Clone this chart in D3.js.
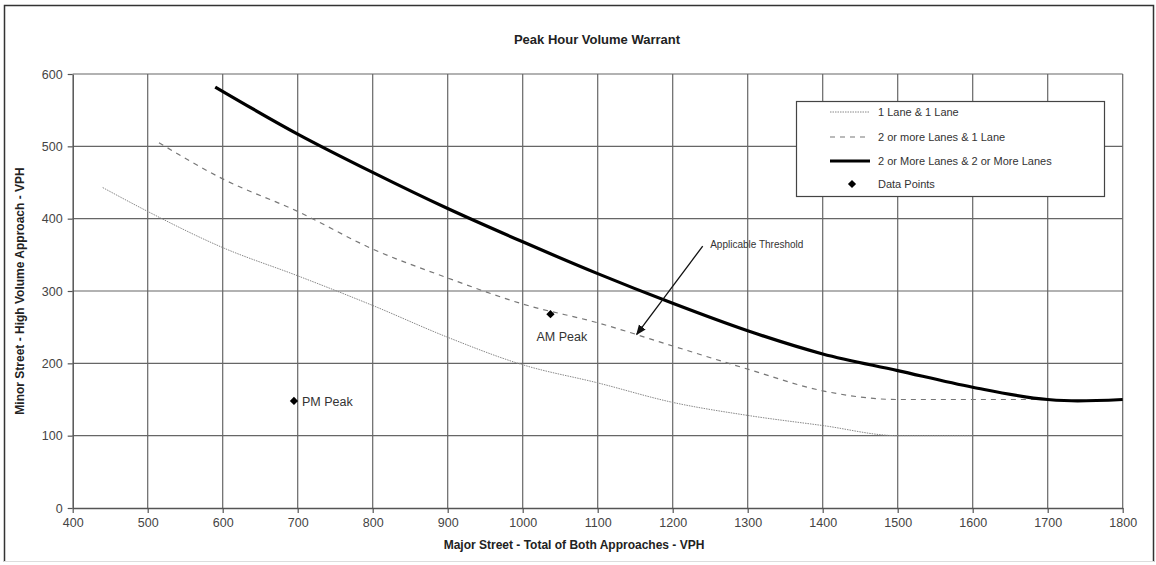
<!DOCTYPE html>
<html><head><meta charset="utf-8">
<script src="https://cdn.jsdelivr.net/npm/d3@7"></script>
<style>body{margin:0;background:#fff;font-family:"Liberation Sans",Arial,sans-serif;}</style>
</head><body>
<svg id="c" width="1156" height="565"></svg>
<script>
const xTicks = [400,500,600,700,800,900,1000,1100,1200,1300,1400,1500,1600,1700,1800];
const yTicks = [0,100,200,300,400,500,600];

const oneLaneX = [440,500,600,700,800,900,1000,1100,1200,1300,1400,1500,1600];
const oneLaneY = [443,410,360,321,280,236,198,173,146,128,114,100,100];

const twoOneX = [515,600,700,800,900,1000,1100,1200,1300,1400,1500,1600,1700];
const twoOneY = [505,455,410,358,318,282,256,224,192,162,150,150,150];

const twoTwoX = [590,700,800,900,1000,1100,1200,1300,1400,1500,1600,1700,1740,1800];
const twoTwoY = [582,517,464,414,368,324,283,245,213,190,167,150,148,150];

const pointsX = [695,1037];
const pointsY = [148,268];
const pointLabels = ["PM Peak","AM Peak"];

const legendLabels = ["1 Lane & 1 Lane","2 or more Lanes & 1 Lane","2 or More Lanes & 2 or More Lanes","Data Points"];

const svg = d3.select("#c");
const x = d3.scaleLinear().domain([400,1800]).range([72.7,1122.7]);
const y = d3.scaleLinear().domain([0,600]).range([508,74]);

// outer frame
svg.append("path").attr("d","M4.5,562 V5.5 H1153.5 V562").attr("fill","none").attr("stroke","#333").attr("stroke-width",1.5);
svg.append("line").attr("x1",4).attr("x2",1154).attr("y1",561.5).attr("y2",561.5).attr("stroke","#ddd");

svg.append("text").attr("x",597).attr("y",44).attr("text-anchor","middle")
  .attr("font-size",13).attr("font-weight","bold").attr("fill","#222").text("Peak Hour Volume Warrant");

// grid
const g = svg.append("g");
g.selectAll(".vg").data(xTicks.slice(1)).join("line")
  .attr("x1",d=>x(d)).attr("x2",d=>x(d)).attr("y1",y(600)).attr("y2",y(0))
  .attr("stroke","#666").attr("stroke-width",1.2);
g.selectAll(".hg").data(yTicks.slice(1)).join("line")
  .attr("x1",x(400)).attr("x2",x(1800)).attr("y1",d=>y(d)).attr("y2",d=>y(d))
  .attr("stroke","#666").attr("stroke-width",1.2);

// axes
const xAxis = svg.append("g").attr("transform",`translate(0,${y(0)})`)
  .call(d3.axisBottom(x).tickValues(xTicks).tickFormat(d3.format("d")).tickSize(5).tickPadding(5).tickSizeOuter(0));
const yAxis = svg.append("g").attr("transform",`translate(${x(400)},0)`)
  .call(d3.axisLeft(y).tickValues(yTicks).tickFormat(d3.format("d")).tickSize(5).tickPadding(5).tickSizeOuter(0));
[xAxis,yAxis].forEach(a=>{
  a.select(".domain").attr("stroke","#555").attr("stroke-width",1.5);
  a.selectAll(".tick line").attr("stroke","#555").attr("stroke-width",1.2);
  a.selectAll("text").attr("font-size",12.5).attr("fill","#444").attr("font-family","Liberation Sans, Arial, sans-serif");
});

svg.append("text").attr("x",574).attr("y",549).attr("text-anchor","middle")
  .attr("font-size",12).attr("font-weight","bold").attr("fill","#222")
  .text("Major Street - Total of Both Approaches - VPH");
svg.append("text").attr("transform","translate(24,291) rotate(-90)").attr("text-anchor","middle")
  .attr("font-size",12).attr("font-weight","bold").attr("fill","#222")
  .text("Minor Street - High Volume Approach - VPH");

const line = d3.line().x(d=>x(d[0])).y(d=>y(d[1])).curve(d3.curveMonotoneX);
const series = [
  {xs:oneLaneX, ys:oneLaneY, stroke:"#888", w:1, dash:"1.5,1"},
  {xs:twoOneX, ys:twoOneY, stroke:"#777", w:1.2, dash:"5,5"},
  {xs:twoTwoX, ys:twoTwoY, stroke:"#000", w:3.2, dash:null}
];
series.forEach(s=>{
  svg.append("path").datum(s.xs.map((v,i)=>[v,s.ys[i]])).attr("d",line)
    .attr("fill","none").attr("stroke",s.stroke).attr("stroke-width",s.w)
    .attr("stroke-dasharray",s.dash);
});

// points (square rotated 45deg)
const diamond = d3.symbol().type(d3.symbolSquare).size(34);
svg.selectAll(".pt").data(pointsX).join("path")
  .attr("transform",(d,i)=>`translate(${x(d)},${y(pointsY[i])}) rotate(45)`).attr("d",diamond).attr("fill","#000");
svg.append("text").attr("x",x(pointsX[0])+8).attr("y",y(pointsY[0])+5).attr("font-size",12.5).attr("fill","#333").text(pointLabels[0]);
svg.append("text").attr("x",x(pointsX[1])-14).attr("y",y(pointsY[1])+27).attr("font-size",12.5).attr("fill","#333").text(pointLabels[1]);

// annotation
svg.append("defs").append("marker").attr("id","ah").attr("viewBox","0 0 10 10").attr("refX",9).attr("refY",5)
  .attr("markerWidth",8).attr("markerHeight",8).attr("orient","auto")
  .append("path").attr("d","M0,1 L10,5 L0,9 Z").attr("fill","#111");
svg.append("line").attr("x1",x(1240)).attr("y1",y(362)).attr("x2",x(1152)).attr("y2",y(240))
  .attr("stroke","#111").attr("stroke-width",1.3).attr("marker-end","url(#ah)");
svg.append("text").attr("x",x(1250)).attr("y",y(362)+2).attr("font-size",10).attr("fill","#333").text("Applicable Threshold");

// legend
const lg = svg.append("g");
lg.append("rect").attr("x",796.5).attr("y",101.5).attr("width",308).attr("height",95)
  .attr("fill","#fff").attr("stroke","#444").attr("stroke-width",1.2);
const rowsY = [112,137,161,184];
series.forEach((s,i)=>{
  lg.append("line").attr("x1",830).attr("x2",870).attr("y1",rowsY[i]).attr("y2",rowsY[i])
    .attr("stroke",s.stroke).attr("stroke-width",s.w).attr("stroke-dasharray",s.dash);
});
lg.append("path").attr("transform",`translate(852,${rowsY[3]}) rotate(45)`).attr("d",diamond).attr("fill","#000");
lg.selectAll(".lt").data(legendLabels).join("text")
  .attr("x",878).attr("y",(d,i)=>rowsY[i]+4).attr("font-size",11).attr("fill","#333").text(d=>d);
</script>
</body></html>
